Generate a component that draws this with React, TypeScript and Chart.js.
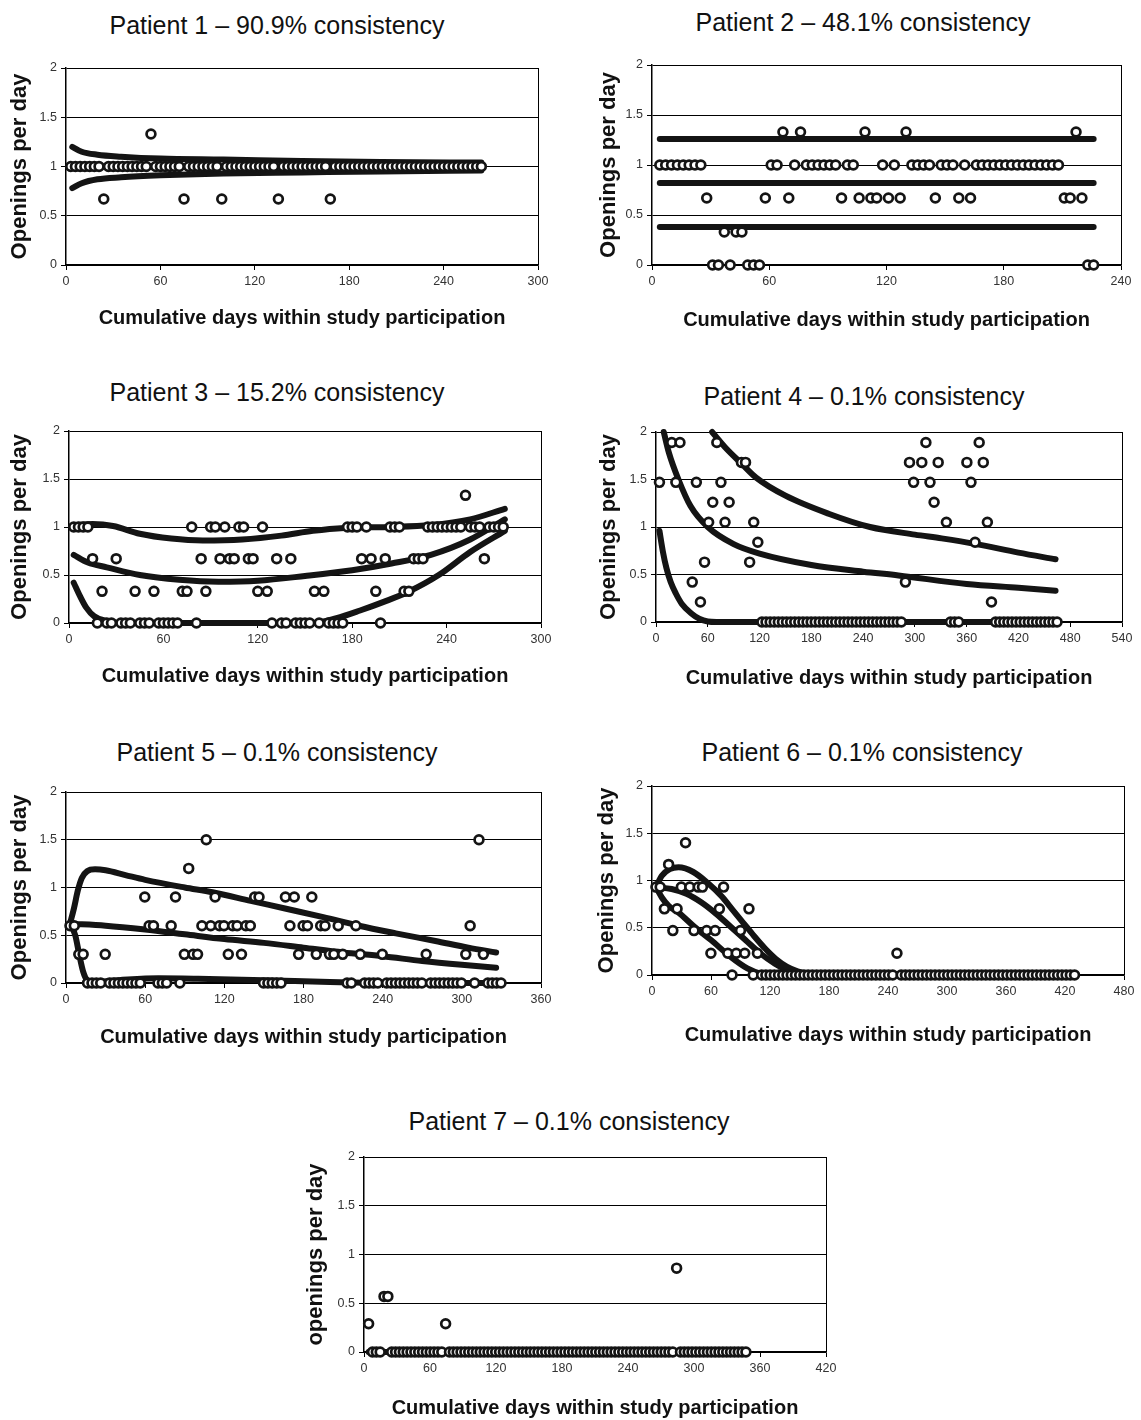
import React, { useEffect, useRef } from "react";
import { Chart, registerables } from "chart.js";
Chart.register(...registerables);

const FONT = "'Liberation Sans', Arial, Helvetica, sans-serif";
const X_TITLE = "Cumulative days within study participation";

// ---------------- Patient 1 ----------------
const P1_DAYS = [3,6,9,12,15,18,21,24,27,30,33,36,39,42,45,48,51,54,57,60,63,66,69,72,75,78,81,84,87,90,93,96,99,102,105,108,111,114,117,120,123,126,129,132,135,138,141,144,147,150,153,156,159,162,165,168,171,174,177,180,183,186,189,192,195,198,201,204,207,210,213,216,219,222,225,228,231,234,237,240,243,246,249,252,255,258,261,264];
const P1_OPENINGS = [
  1,1,1,1,1,1,1, 0.67,
  1,1,1,1,1,1,1,1,1, 1.33,
  1,1,1,1,1,1, 0.67,
  1,1,1,1,1,1,1, 0.67,
  1,1,1,1,1,1,1,1,1,1,1, 0.67,
  1,1,1,1,1,1,1,1,1,1, 0.67,
  1,1,1,1,1,1,1,1, 1,1,1,1,1,1,1,1, 1,1,1,1,1,1,1,1, 1,1,1,1,1,1,1,1
];
const P1_UPPER = [[4,1.2],[10,1.15],[20,1.12],[35,1.1],[60,1.08],[100,1.07],[150,1.055],[200,1.045],[264,1.04]];
const P1_MIDDLE = [[4,1],[264,1]];
const P1_LOWER = [[4,0.78],[10,0.83],[20,0.87],[35,0.89],[60,0.91],[100,0.93],[150,0.94],[200,0.95],[264,0.96]];

// ---------------- Patient 2 ----------------
const P2_DAYS = [4,7,10,13,16,19,22,25,28,31,34,37,40,43,46,49,52,55,58,61,64,67,70,73,76,79,82,85,88,91,94,97,100,103,106,109,112,115,118,121,124,127,130,133,136,139,142,145,148,151,154,157,160,163,166,169,172,175,178,181,184,187,190,193,196,199,202,205,208,211,214,217,220,223,226];
const P2_OPENINGS = [
  1,1,1,1,1,1,1,1,
  0.67,
  0,0,0.33,0,0.33,0.33,0,0,0,
  0.67,1,1,1.33,0.67,1,1.33,
  1,1,1,1,1,1,
  0.67,1,1,0.67,1.33,0.67,0.67,1,0.67,1,0.67,1.33,
  1,1,1,1,
  0.67,1,1,1,0.67,1,0.67,
  1,1,1,1,1,1,1,1,1,1,1,1,1,1,1,
  0.67,0.67,1.33,0.67,0,0
];
const P2_HIGH = [[4,1.26],[226,1.26]];
const P2_MID = [[4,0.82],[226,0.82]];
const P2_LOW = [[4,0.38],[226,0.38]];

// ---------------- Patient 3 ----------------
const P3_DAYS = [3,6,9,12,15,18,21,24,27,30,33,36,39,42,45,48,51,54,57,60,63,66,69,72,75,78,81,84,87,90,93,96,99,102,105,108,111,114,117,120,123,126,129,132,135,138,141,144,147,150,153,156,159,162,165,168,171,174,177,180,183,186,189,192,195,198,201,204,207,210,213,216,219,222,225,228,231,234,237,240,243,246,249,252,255,258,261,264,267,270,273,276];
const P3_OPENINGS = [
  1,1,1,1,0.67,0,0.33,0,0,0.67,
  0,0,0,0.33,0,0,0,0.33,0,0,
  0,0,0,0.33,0.33,1,0,0.67,0.33,1,
  1,0.67,1,0.67,0.67,1,1,0.67,0.67,0.33,
  1,0.33,0,0.67,0,0,0.67,0,0,0,
  0,0.33,0,0.33,0,0,0,0,1,1,
  1,0.67,1,0.67,0.33,0,0.67,1,1,1,
  0.33,0.33,0.67,0.67,0.67,1,1,1,1,1,
  1,1,1,1.33,1,1,1,0.67,1,1,
  1,1
];
const P3_UPPER = [[3,1.02],[15,1.03],[28,1.01],[45,0.93],[65,0.88],[85,0.86],[110,0.87],[135,0.91],[155,0.96],[175,0.99],[205,1.0],[230,1.02],[255,1.08],[277,1.19]];
const P3_MIDDLE = [[3,0.71],[12,0.63],[24,0.58],[45,0.5],[70,0.45],[95,0.43],[120,0.44],[150,0.49],[180,0.55],[205,0.62],[230,0.71],[255,0.87],[277,1.08]];
const P3_LOWER = [[3,0.42],[7,0.28],[11,0.16],[16,0.07],[24,0.02],[35,0],[155,0],[170,0.05],[185,0.13],[200,0.22],[215,0.32],[235,0.5],[255,0.74],[277,0.96]];

// ---------------- Patient 4 ----------------
const P4_DAYS = [
  4,18.25,23,27.75,42,46.75,51.5,56.25,61,65.75,70.5,75.25,80,84.75,99,103.75,108.5,113.25,118,
  122.75,127.5,132.25,137,141.75,146.5,151.25,156,160.75,165.5,170.25,175,179.75,184.5,189.25,194,198.75,203.5,208.25,213,217.75,222.5,227.25,232,236.75,241.5,246.25,251,255.75,260.5,265.25,270,274.75,279.5,284.25,
  289,293.75,298.5,308,312.75,317.5,322.25,327,336.5,341.25,346,350.75,360.25,365,369.75,374.5,379.25,384,388.75,
  393.5,398.25,403,407.75,412.5,417.25,422,426.75,431.5,436.25,441,445.75,450.5,455.25,460,464.75
];
const P4_OPENINGS = [
  1.47,1.89,1.47,1.89,0.42,1.47,0.21,0.63,1.05,1.26,1.89,1.47,1.05,1.26,1.68,1.68,0.63,1.05,0.84,
  0,0,0,0,0,0,0,0,0,0, 0,0,0,0,0,0,0,0,0,0, 0,0,0,0,0,0,0,0,0,0, 0,0,0,0,0,
  0.42,1.68,1.47,1.68,1.89,1.47,1.26,1.68,1.05,0,0,0,1.68,1.47,0.84,1.89,1.68,1.05,0.21,
  0,0,0,0,0,0,0,0,0,0, 0,0,0,0,0,0
];
const P4_UPPER = [[65,2.0],[80,1.84],[100,1.66],[116,1.52],[150,1.33],[200,1.14],[248,1.0],[300,0.92],[331,0.88],[371,0.82],[420,0.73],[463,0.66]];
const P4_MIDDLE = [[9,2.0],[15,1.78],[26,1.5],[40,1.22],[60,1.0],[90,0.82],[120,0.72],[180,0.6],[240,0.53],[281,0.49],[360,0.4],[420,0.36],[463,0.33]];
const P4_LOWER = [[4,0.96],[8,0.74],[12,0.57],[17,0.42],[23,0.3],[30,0.19],[41,0.09],[50,0.035],[60,0.005],[70,0],[464.75,0]];

// ---------------- Patient 5 ----------------
const P5_DAYS = [3,6.3,9.7,13,16.3,19.7,23,26.3,29.7,33,36.3,39.7,43,46.3,49.7,53,56.3,59.7,63,66.3,69.7,73,76.3,79.7,83,86.3,89.7,93,96.3,99.7,103,106.3,109.7,113,116.3,119.7,123,126.3,129.7,133,136.3,139.7,143,146.3,149.7,153,156.3,159.7,163,166.3,169.7,173,176.3,179.7,183,186.3,189.7,193,196.3,199.7,203,206.3,209.7,213,216.3,219.7,223,226.3,229.7,233,236.3,239.7,243,246.3,249.7,253,256.3,259.7,263,266.3,269.7,273,276.3,279.7,283,286.3,289.7,293,296.3,299.7,303,306.3,309.7,313,316.3,319.7,323,326.3,329.7];
const P5_OPENINGS = [
  0.6,0.6,0.3,0.3,0,0,0,0,0.3,
  0,0,0,0,0,0,0,0,
  0.9,0.6,0.6,0,0,0,0.6,0.9,0,0.3,1.2,0.3,0.3,0.6,1.5,0.6,0.9,0.6,0.6,0.3,0.6,0.6,0.3,0.6,0.6,0.9,0.9,
  0,0,0,0,0,
  0.9,0.6,0.9,0.3,0.6,0.6,0.9,0.3,0.6,0.6,0.3,0.3,0.6,0.3,0,0,0.6,0.3,
  0,0,0,0,
  0.3,
  0,0,0,0,0,0,0,0,0,
  0.3,
  0,0,0,0,0,0,0,0,
  0.3,0.6,0,1.5,0.3,
  0,0,0,0
];
const P5_UPPER = [[3,0.62],[6,0.78],[9,0.97],[12,1.1],[16,1.17],[22,1.19],[30,1.18],[45,1.13],[60,1.08],[90,1.0],[111,0.95],[140,0.86],[166,0.78],[195,0.69],[222,0.6],[250,0.52],[280,0.44],[305,0.37],[326,0.32]];
const P5_MIDDLE = [[3,0.62],[30,0.6],[60,0.56],[90,0.51],[120,0.46],[150,0.42],[180,0.37],[210,0.32],[240,0.28],[270,0.23],[300,0.19],[326,0.16]];
const P5_LOWER = [[3,0.62],[7,0.5],[10,0.3],[13,0.12],[16,0.03],[20,0.01],[40,0.03],[70,0.05],[100,0.045],[150,0.03],[200,0.01],[240,0],[326,0]];

// ---------------- Patient 6 ----------------
const P6_DAYS = [
  4,8.3,12.6,16.9,21.2,25.5,29.8,34.1,38.4,42.7,47,51.3,55.6,59.9,64.2,68.5,72.8,77.1,81.4,85.7,90,94.3,98.6,102.9,107.2,
  111.5,115.8,120.1,124.4,128.7,133,137.3,141.6,145.9,150.2,154.5,158.8,163.1,167.4,171.7,176,180.3,184.6,188.9,193.2,197.5,201.8,206.1,210.4,214.7,219,223.3,227.6,231.9,236.2,240.5,244.8,
  249.1,
  253.4,257.7,262,266.3,270.6,274.9,279.2,283.5,287.8,292.1,296.4,300.7,305,309.3,313.6,317.9,322.2,326.5,330.8,335.1,339.4,343.7,348,352.3,356.6,360.9,365.2,369.5,373.8,378.1,382.4,386.7,391,395.3,399.6,403.9,408.2,412.5,416.8,421.1,425.4,429.7
];
const P6_OPENINGS = [
  0.93,0.93,0.7,1.17,0.47,0.7,0.93,1.4,0.93,0.47,0.93,0.93,0.47,0.23,0.47,0.7,0.93,0.23,0,0.23,0.47,0.23,0.7,0,0.23,
  0,0,0,0,0,0,0,0,0,0, 0,0,0,0,0,0,0,0,0,0, 0,0,0,0,0,0,0,0,0,0, 0,0,
  0.23,
  0,0,0,0,0,0,0,0,0,0, 0,0,0,0,0,0,0,0,0,0, 0,0,0,0,0,0,0,0,0,0, 0,0,0,0,0,0,0,0,0,0, 0,0
];
const P6_UPPER = [[4,0.93],[10,1.05],[18,1.12],[27,1.14],[42,1.09],[57,0.97],[71,0.83],[82,0.69],[93,0.55],[104,0.41],[115,0.28],[126,0.17],[137,0.09],[148,0.04],[159,0.01],[170,0],[429.7,0]];
const P6_MIDDLE = [[4,0.93],[20,0.91],[35,0.86],[50,0.77],[65,0.65],[80,0.51],[95,0.37],[110,0.23],[125,0.12],[140,0.04],[155,0.01],[165,0],[429.7,0]];
const P6_LOWER = [[4,0.93],[10,0.82],[17,0.73],[27,0.66],[42,0.52],[60,0.37],[79,0.2],[97,0.07],[112,0.01],[125,0],[429.7,0]];

// ---------------- Patient 7 ----------------
const P7_DAYS = [4.2,7.7,11.2,14.7,18.2,21.7,25.2,28.7,32.2,35.7,39.2,42.7,46.2,49.7,53.2,56.7,60.2,63.7,67.2,70.7,74.2,77.7,81.2,84.7,88.2,91.7,95.2,98.7,102.2,105.7,109.2,112.7,116.2,119.7,123.2,126.7,130.2,133.7,137.2,140.7,144.2,147.7,151.2,154.7,158.2,161.7,165.2,168.7,172.2,175.7,179.2,182.7,186.2,189.7,193.2,196.7,200.2,203.7,207.2,210.7,214.2,217.7,221.2,224.7,228.2,231.7,235.2,238.7,242.2,245.7,249.2,252.7,256.2,259.7,263.2,266.7,270.2,273.7,277.2,280.7,284.2,287.7,291.2,294.7,298.2,301.7,305.2,308.7,312.2,315.7,319.2,322.7,326.2,329.7,333.2,336.7,340.2,343.7,347.2];
const P7_OPENINGS = [
  0.29,0,0,0,0.57,0.57,
  0,0,0,0,0,0,0,0,0,0,0,0,0,0,
  0.29,
  0,0,0,0,0,0,0,0,0,0, 0,0,0,0,0,0,0,0,0,0, 0,0,0,0,0,0,0,0,0,0, 0,0,0,0,0,0,0,0,0,0, 0,0,0,0,0,0,0,0,0,0, 0,0,0,0,0,0,0,0,0,
  0.86,
  0,0,0,0,0,0,0,0,0,0, 0,0,0,0,0,0,0,0
];
const P7_TREND = [[4.2,0],[347.2,0]];

type PanelCfg = {
  title: string; yTitle: string; xMax: number;
  days: number[]; openings: number[]; curves: number[][][];
  left: number; top: number; width: number; height: number;
  yAxisW: number; xAxisH: number; padRight: number; padTop: number;
  yTitlePad: number; xTitlePad: number; titleX: number; titleY: number;
};

const PANELS: PanelCfg[] = [
  { title: "Patient 1 \u2013 90.9% consistency", yTitle: "Openings per day", xMax: 300, days: P1_DAYS, openings: P1_OPENINGS, curves: [P1_UPPER, P1_MIDDLE, P1_LOWER],
    left: 0, top: 55, width: 555, height: 279, yAxisW: 66, xAxisH: 69, padRight: 17, padTop: 13, yTitlePad: 6.8, xTitlePad: 4, titleX: 277, titleY: 25 },
  { title: "Patient 2 \u2013 48.1% consistency", yTitle: "Openings per day", xMax: 240, days: P2_DAYS, openings: P2_OPENINGS, curves: [P2_HIGH, P2_MID, P2_LOW],
    left: 590, top: 52, width: 551, height: 284, yAxisW: 62, xAxisH: 71, padRight: 20, padTop: 13, yTitlePad: 5.8, xTitlePad: 4, titleX: 863, titleY: 22 },
  { title: "Patient 3 \u2013 15.2% consistency", yTitle: "Openings per day", xMax: 300, days: P3_DAYS, openings: P3_OPENINGS, curves: [P3_UPPER, P3_MIDDLE, P3_LOWER],
    left: 0, top: 418, width: 560, height: 274, yAxisW: 69, xAxisH: 69, padRight: 19, padTop: 13, yTitlePad: 6.8, xTitlePad: 4, titleX: 277, titleY: 392 },
  { title: "Patient 4 \u2013 0.1% consistency", yTitle: "Openings per day", xMax: 540, days: P4_DAYS, openings: P4_OPENINGS, curves: [P4_UPPER, P4_MIDDLE, P4_LOWER],
    left: 590, top: 419, width: 551, height: 275, yAxisW: 66, xAxisH: 72, padRight: 19, padTop: 13, yTitlePad: 5.8, xTitlePad: 4, titleX: 864, titleY: 396 },
  { title: "Patient 5 \u2013 0.1% consistency", yTitle: "Openings per day", xMax: 360, days: P5_DAYS, openings: P5_OPENINGS, curves: [P5_UPPER, P5_MIDDLE, P5_LOWER],
    left: 0, top: 779, width: 560, height: 274, yAxisW: 66, xAxisH: 70, padRight: 19, padTop: 13, yTitlePad: 6.8, xTitlePad: 4, titleX: 277, titleY: 752 },
  { title: "Patient 6 \u2013 0.1% consistency", yTitle: "Openings per day", xMax: 480, days: P6_DAYS, openings: P6_OPENINGS, curves: [P6_UPPER, P6_MIDDLE, P6_LOWER],
    left: 590, top: 773, width: 551, height: 278, yAxisW: 62, xAxisH: 76, padRight: 17, padTop: 13, yTitlePad: 3.8, xTitlePad: 4, titleX: 862, titleY: 752 },
  { title: "Patient 7 \u2013 0.1% consistency", yTitle: "openings per day", xMax: 420, days: P7_DAYS, openings: P7_OPENINGS, curves: [P7_TREND],
    left: 290, top: 1144, width: 560, height: 276, yAxisW: 74, xAxisH: 68, padRight: 24, padTop: 13, yTitlePad: 12.8, xTitlePad: 0, titleX: 569, titleY: 1121 },
];

function PanelChart({ cfg }: { cfg: PanelCfg }) {
  const ref = useRef<HTMLCanvasElement>(null);
  useEffect(() => {
    if (!ref.current) return;
    const points = cfg.days.map((d, i) => ({ x: d, y: cfg.openings[i] }));
    const lineSets = cfg.curves.map((c) => ({
      data: c.map(([x, y]) => ({ x, y })),
      showLine: true,
      pointRadius: 0,
      borderColor: "#141414",
      borderWidth: 6,
      borderCapStyle: "round" as const,
      borderJoinStyle: "round" as const,
      cubicInterpolationMode: "monotone" as const,
      fill: false,
      clip: false as const,
      order: 2,
    }));
    const chart = new Chart(ref.current, {
      type: "scatter",
      data: {
        datasets: [
          {
            data: points,
            showLine: false,
            pointRadius: 4.4,
            pointBorderWidth: 2.7,
            pointBackgroundColor: "#ffffff",
            pointBorderColor: "#141414",
            clip: false as const,
            order: 1,
          } as any,
          ...(lineSets as any[]),
        ],
      },
      options: {
        animation: false,
        responsive: true,
        maintainAspectRatio: false,
        events: [],
        layout: { padding: { left: 0, right: cfg.padRight, top: cfg.padTop, bottom: 0 } },
        plugins: { legend: { display: false }, tooltip: { enabled: false }, title: { display: false } },
        scales: {
          x: {
            type: "linear",
            min: 0,
            max: cfg.xMax,
            afterFit: (s: any) => { s.height = cfg.xAxisH; },
            ticks: { stepSize: 60, autoSkip: false, maxRotation: 0, minRotation: 0, padding: 4, color: "#333", font: { family: FONT, size: 12.5 }, callback: (v: any) => String(v) },
            grid: {
              drawOnChartArea: true,
              color: (ctx: any) => (ctx.tick && ctx.tick.value === cfg.xMax ? "#000" : "rgba(0,0,0,0)"),
              tickColor: "#000",
              tickLength: 5,
              lineWidth: 1,
            },
            border: { display: true, color: "#000", width: 1.5 },
            title: { display: true, text: X_TITLE, color: "#111", font: { family: FONT, size: 20, weight: "bold" }, padding: { top: 0, bottom: cfg.xTitlePad } },
          },
          y: {
            type: "linear",
            min: 0,
            max: 2,
            afterFit: (s: any) => { s.width = cfg.yAxisW; },
            ticks: { stepSize: 0.5, padding: 4, color: "#333", font: { family: FONT, size: 12.5 }, callback: (v: any) => String(v) },
            grid: { color: "#000", lineWidth: 1, tickLength: 5 },
            border: { display: true, color: "#000", width: 1.5 },
            title: { display: true, text: cfg.yTitle, color: "#111", font: { family: FONT, size: 22, weight: "bold" }, padding: { top: cfg.yTitlePad, bottom: 0 } },
          },
        },
      } as any,
    });
    return () => chart.destroy();
  }, [cfg]);

  return (
    <>
      <div
        style={{
          position: "absolute",
          left: cfg.titleX - 300,
          top: cfg.titleY - 15,
          width: 600,
          textAlign: "center",
          fontFamily: FONT,
          fontSize: 25,
          lineHeight: "30px",
          color: "#111",
          whiteSpace: "nowrap",
        }}
      >
        {cfg.title}
      </div>
      <div style={{ position: "absolute", left: cfg.left, top: cfg.top, width: cfg.width, height: cfg.height }}>
        <canvas ref={ref} style={{ display: "block" }} />
      </div>
    </>
  );
}

export default function App() {
  return (
    <div style={{ position: "absolute", left: 0, top: 0, width: 1141, height: 1420, background: "#fff", overflow: "hidden" }}>
      {PANELS.map((p, i) => (
        <PanelChart key={i} cfg={p} />
      ))}
    </div>
  );
}
